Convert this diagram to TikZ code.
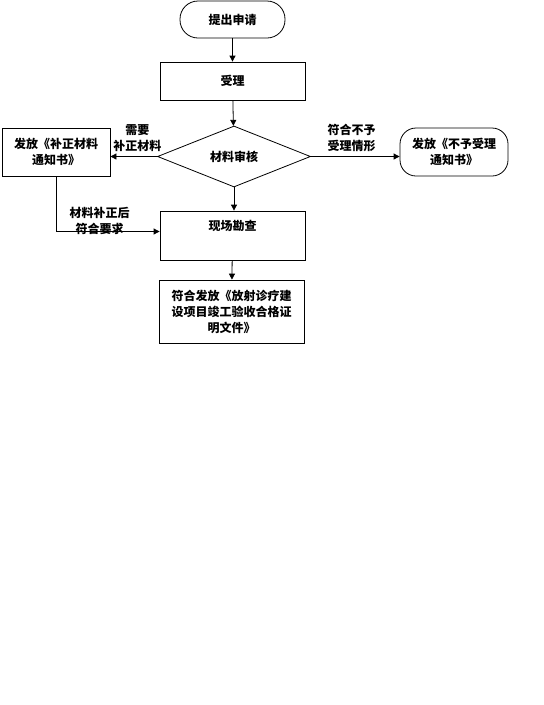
\documentclass[tikz,border=0pt]{standalone}
\usepackage{fontspec}
\setmainfont{Noto Sans CJK SC}
\usetikzlibrary{shapes.geometric, arrows.meta}

\tikzset{
  box/.style={draw, line width=0.8pt, inner sep=1pt, align=center, font=\bfseries\fontsize{12}{16}\selectfont},
  pill/.style={box, rounded corners=18pt},
  flow/.style={draw, line width=0.8pt, -{Triangle[length=6pt,width=6pt]}},
  note/.style={align=center, inner sep=1pt, font=\bfseries\fontsize{12}{16}\selectfont}
}

\begin{document}
\begin{tikzpicture}[x=1pt,y=1pt,yscale=-1,xscale=1]
        \useasboundingbox (0,0) rectangle (544,705);

        %Shape: Rounded Rect
        \node [pill, minimum width=105pt, minimum height=37pt] (apply) at (232.5,19.5) {提出申请};
        %Shape: Rectangle
        \node [box, minimum width=145pt, minimum height=38pt] (accept) at (232.5,81) {受理};
        %Shape: Diamond
        \node [box, diamond, minimum width=153pt, minimum height=61pt, inner sep=0pt] (review) at (234,156.5) {材料审核};
        %Shape: Rectangle
        \node [box, minimum width=108pt, minimum height=48pt] (supp) at (56,152) {发放《补正材料\\通知书》};
        %Shape: Rounded Rect
        \node [pill, rounded corners=16pt, minimum width=108pt, minimum height=48pt] (reject) at (454,152) {发放《不予受理\\通知书》};
        %Shape: Rectangle
        \node [box, minimum width=145pt, minimum height=49pt, label={[note, anchor=north, yshift=-8pt]north:现场勘查}] (survey) at (232.5,235.5) {};
        %Shape: Rectangle
        \node [box, minimum width=145pt, minimum height=63pt] (issue) at (231.5,311.5) {符合发放《放射诊疗建\\设项目竣工验收合格证\\明文件》};

        % Connectors
        \draw [flow] (apply) -- (accept);
        \draw [flow] (accept) -- (review);
        \draw [flow] (review.west) -- (review.west -| supp.east) node [note, above, pos=0.42, yshift=3pt] {需要\\补正材料};
        \draw [flow] (review.east) -- (review.east -| reject.west) node [note, above, pos=0.46, yshift=3pt] {符合不予\\受理情形};
        \draw [flow] (review.south) -- (review.south |- survey.north);
        \draw [flow] (supp.south) |- ([yshift=-4pt]survey.west) node [note, above, pos=0.71, yshift=-5pt] {材料补正后\\符合要求};
        \draw [flow] (survey) -- (issue);

\end{tikzpicture}
\end{document}
